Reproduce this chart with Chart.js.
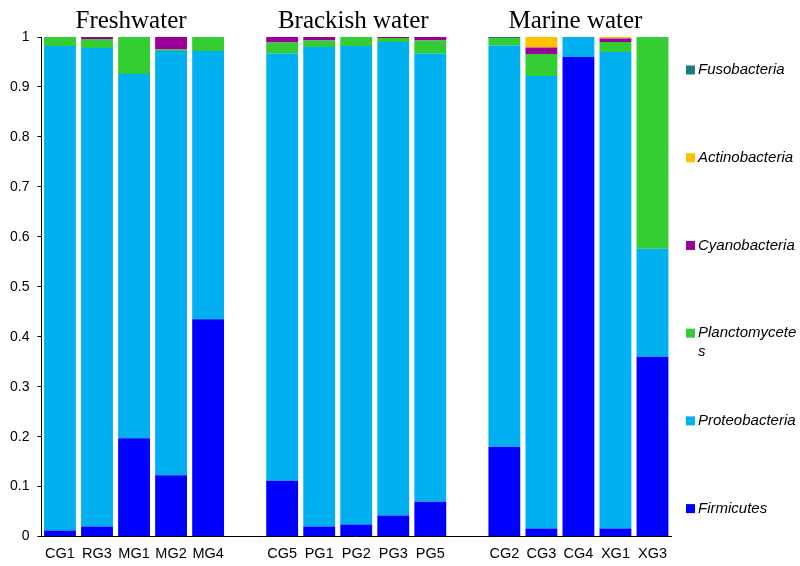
<!DOCTYPE html>
<html>
<head>
<meta charset="utf-8">
<script src="https://cdn.jsdelivr.net/npm/chart.js@4/dist/chart.umd.min.js"></script>
<style>
  html, body { margin: 0; padding: 0; background: #fff; }
  #wrap { width: 800px; height: 566px; }
</style>
</head>
<body>
<div id="wrap"><canvas id="id_chart" width="800" height="566"></canvas></div>
<script>
// samples (blank entries = gap between habitat groups)
var samples = ['CG1', 'RG3', 'MG1', 'MG2', 'MG4', '', 'CG5', 'PG1', 'PG2', 'PG3', 'PG5', '', 'CG2', 'CG3', 'CG4', 'XG1', 'XG3'];

// relative abundance
var firmicutes     = [0.012, 0.020, 0.197, 0.123, 0.435, null, 0.112, 0.020, 0.024, 0.042, 0.070, null, 0.180, 0.016, 0.960, 0.016, 0.360];
var proteobacteria = [0.970, 0.958, 0.729, 0.849, 0.537, null, 0.855, 0.960, 0.958, 0.948, 0.897, null, 0.803, 0.906, 0.040, 0.954, 0.216];
var planctomycetes = [0.018, 0.018, 0.074, 0.003, 0.028, null, 0.022, 0.013, 0.018, 0.008, 0.026, null, 0.015, 0.044, 0, 0.020, 0.424];
var cyanobacteria  = [0, 0.004, 0, 0.025, 0, null, 0.011, 0.007, 0, 0.002, 0.007, null, 0, 0.013, 0, 0.007, 0];
var actinobacteria = [0, 0, 0, 0, 0, null, 0, 0, 0, 0, 0, null, 0, 0.021, 0, 0.003, 0];
var fusobacteria   = [0, 0, 0, 0, 0, null, 0, 0, 0, 0, 0, null, 0.002, 0, 0, 0, 0];

// group headings and the sample they sit over
var groupTitles = ['Freshwater', 'Brackish water', 'Marine water'];
var groupCenter = [2, 8, 14];

var FONT = 'Liberation Sans, Arial, sans-serif';

var _mkSet = function( label, data, color ){
    return {
        label : label,
        data  : data,
        backgroundColor : color,
        borderWidth : 0,
        barPercentage : 0.86,
        categoryPercentage : 1.0
    };
};

// headings above each group
var groupTitlePlugin = {
    id : 'groupTitles',
    afterDraw : function( chart ){
        var ctx = chart.ctx;
        var xs = chart.scales.x;
        ctx.save();
        ctx.font = '25px "Liberation Serif", "Times New Roman", serif';
        ctx.fillStyle = '#000';
        ctx.textAlign = 'center';
        ctx.textBaseline = 'alphabetic';
        for( var i = 0; i < groupTitles.length; i++ ){
            ctx.fillText( groupTitles[i], xs.getPixelForValue( groupCenter[i] ) - 3, 28 );
        }
        ctx.restore();
    }
};

// Excelっぽく縦に広く散らした凡例（標準の凡例だと折り返してしまう）
var spreadLegendPlugin = {
    id : 'spreadLegend',
    afterDraw : function( chart ){
        var ctx = chart.ctx;
        var sets = chart.data.datasets;
        var x = chart.chartArea.right + 15;
        var top = chart.chartArea.top + 33;
        var step = (chart.chartArea.bottom - 28 - top) / (sets.length - 1);
        ctx.save();
        ctx.font = 'italic 15px ' + FONT;
        ctx.textBaseline = 'middle';
        ctx.textAlign = 'left';
        for( var k = 0; k < sets.length; k++ ){
            var ds = sets[ sets.length - 1 - k ];
            var y = top + k * step;
            ctx.fillStyle = ds.backgroundColor;
            ctx.fillRect( x, y - 4.5, 9, 9 );
            ctx.fillStyle = '#000';
            var lines = (ds.label === 'Planctomycetes') ? ['Planctomycete', 's'] : [ ds.label ];
            for( var j = 0; j < lines.length; j++ ){
                ctx.fillText( lines[j], x + 12, y + j * 19 );
            }
        }
        ctx.restore();
    }
};

var ctx = document.getElementById('id_chart').getContext('2d');
var myChart = new Chart(ctx, {
    type : 'bar',
    data : {
        labels : samples,
        datasets : [
            _mkSet( 'Firmicutes',     firmicutes,     '#0000FF' ),
            _mkSet( 'Proteobacteria', proteobacteria, '#00B0F0' ),
            _mkSet( 'Planctomycetes', planctomycetes, '#33CC33' ),
            _mkSet( 'Cyanobacteria',  cyanobacteria,  '#990099' ),
            _mkSet( 'Actinobacteria', actinobacteria, '#FFC000' ),
            _mkSet( 'Fusobacteria',   fusobacteria,   '#1A7F7A' )
        ]
    },
    options : {
        responsive : false,
        animation : false,
        layout : { padding : { top : 37, left : 2, right : 129, bottom : 2 } },
        plugins : {
            tooltip : { enabled : false },
            legend : { display : false }
        },
        scales : {
            x : {
                stacked : true,
                grid : { display : false },
                border : { color : '#000', width : 1 },
                ticks : {
                    color : '#000',
                    maxRotation : 0,
                    autoSkip : false,
                    padding : 1,
                    font : { family : FONT, size : 14.5 }
                }
            },
            y : {
                stacked : true,
                min : 0,
                max : 1,
                grid : { drawOnChartArea : false, drawTicks : true, tickLength : 4, color : '#000' },
                border : { color : '#000', width : 1 },
                ticks : {
                    stepSize : 0.1,
                    color : '#000',
                    padding : 8,
                    font : { family : FONT, size : 14 },
                    callback : function( v ){ return String( +v.toFixed(1) ); }
                }
            }
        }
    },
    plugins : [ groupTitlePlugin, spreadLegendPlugin ]
});
</script>
</body>
</html>
